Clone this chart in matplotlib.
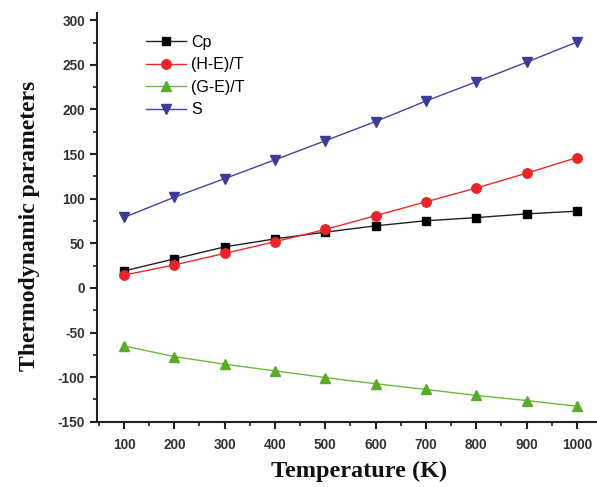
import matplotlib.pyplot as plt
from matplotlib.ticker import MultipleLocator

plt.rcParams['axes.unicode_minus'] = False

temps = [100, 200, 300, 400, 500, 600, 700, 800, 900, 1000]
cp = [19, 32.5, 46, 55, 62.5, 69.6, 75.3, 78.8, 83, 86]
h_e_t = [14.3, 25.8, 38.7, 51.8, 65.5, 81, 96.5, 112, 128.6, 146]
g_e_t = [-65, -77, -85.5, -93, -100.5, -107.4, -113.8, -120.5, -126.2, -132.6]
s = [79, 101.7, 122.5, 143.6, 165, 186.5, 209.5, 231, 253, 275.6]

fig = plt.figure(figsize=(5.97, 4.87), dpi=100)
ax = fig.add_axes([0.163, 0.134, 0.837, 0.839])

ax.plot(temps, cp, '-s', color='#222222', mfc='black', mec='black', ms=6.3, lw=1, label='Cp')
ax.plot(temps, h_e_t, '-o', color='#ee2a2a', mfc='#e8262a', mec='#e8262a', ms=6.8, lw=1, label='(H-E)/T')
ax.plot(temps, g_e_t, '-^', color='#6cbb3c', mfc='#5aab2a', mec='#5aab2a', ms=7.3, lw=1, label='(G-E)/T')
ax.plot(temps, s, '-v', color='#44449a', mfc='#3c3c96', mec='#3c3c96', ms=7.3, lw=1, label='S')

ax.set_xlim(47, 1040)
ax.set_ylim(-150, 308)
ax.xaxis.set_major_locator(MultipleLocator(100))
ax.xaxis.set_minor_locator(MultipleLocator(50))
ax.yaxis.set_major_locator(MultipleLocator(50))
ax.yaxis.set_minor_locator(MultipleLocator(25))
ax.set_xticks(temps)

for side in ['top', 'right']:
    ax.spines[side].set_visible(False)
for side in ['left', 'bottom']:
    ax.spines[side].set_linewidth(1.5)
    ax.spines[side].set_color('#222222')

ax.tick_params(which='major', direction='out', length=5, width=1.5, color='#222222')
ax.tick_params(which='minor', direction='out', length=3, width=1.2, color='#222222')
for lab in ax.get_xticklabels() + ax.get_yticklabels():
    lab.set_fontfamily('Liberation Sans')
    lab.set_fontweight('bold')
    lab.set_fontsize(9.8)
    lab.set_color('#333333')
ax.tick_params(axis='x', pad=7)
ax.tick_params(axis='y', pad=4)

ax.set_xlabel('Temperature (K)', fontfamily='Liberation Serif', fontweight='bold',
              fontsize=17.5, color='#111111', va='baseline')
ax.xaxis.set_label_coords(0.524, -0.135)
ax.set_ylabel('Thermodynamic parameters', fontfamily='Liberation Serif', fontweight='bold',
              fontsize=17, color='#111111', va='center')
ax.yaxis.set_label_coords(-0.136, 0.48)

leg = ax.legend(loc='upper left', bbox_to_anchor=(0.085, 0.963), frameon=False,
                prop={'family': 'Liberation Sans', 'size': 11.5}, handlelength=2.5,
                handletextpad=0.3, labelspacing=0.47, borderaxespad=0)

fig.savefig('out.png', dpi=100)
